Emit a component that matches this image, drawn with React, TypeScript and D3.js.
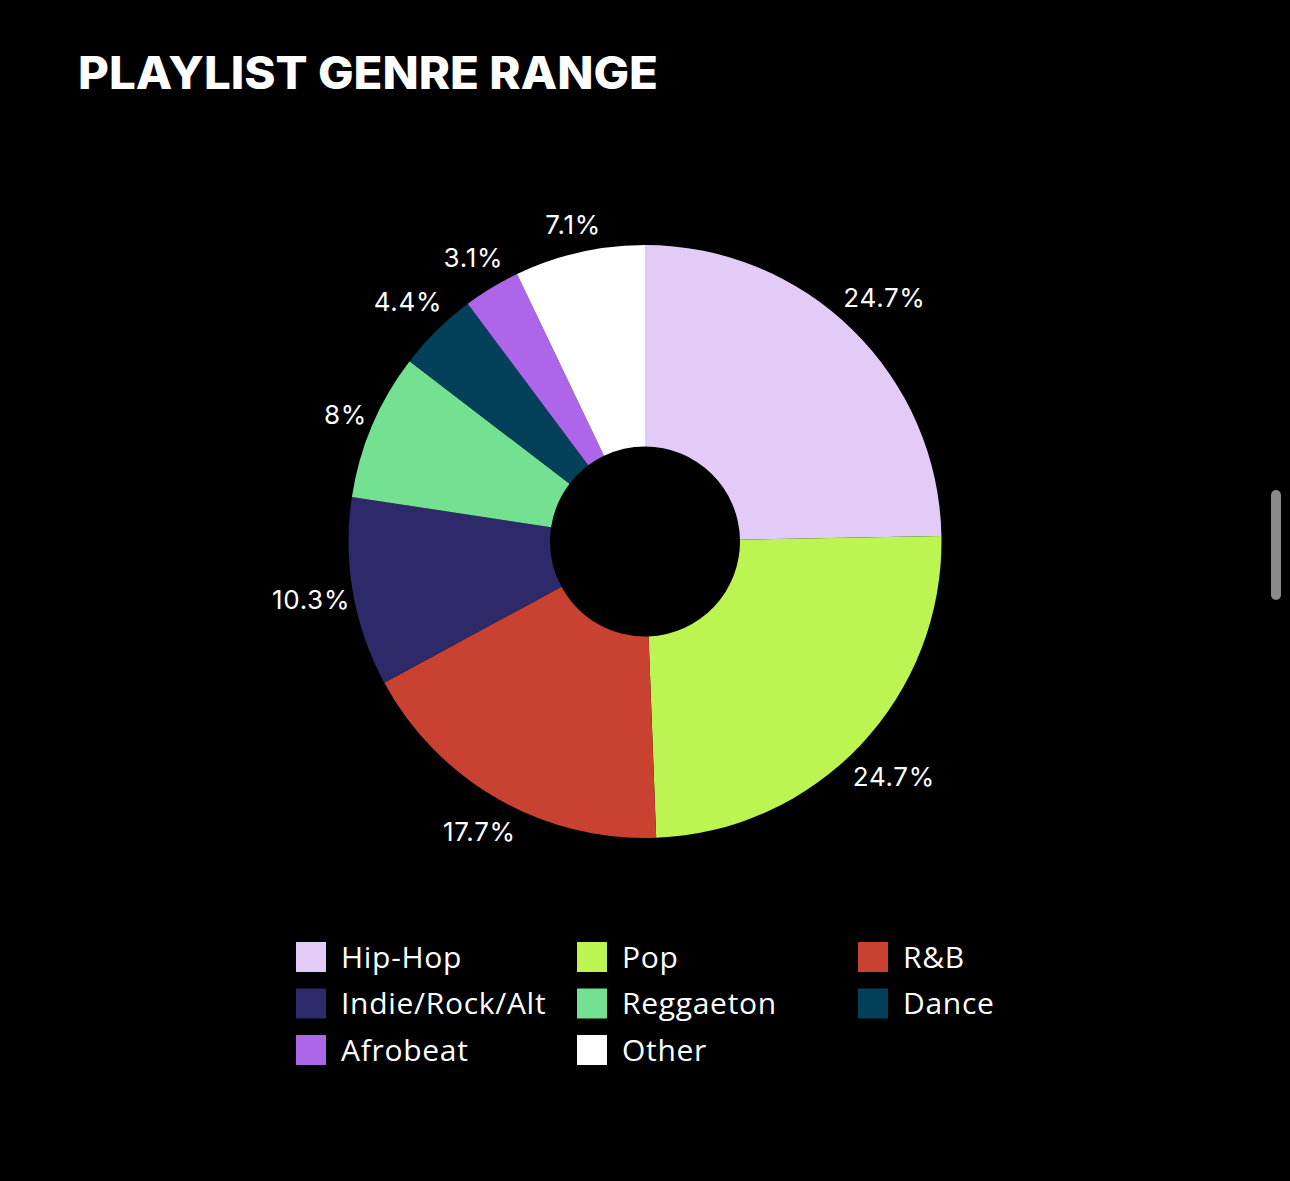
import { useEffect, useRef } from 'react';
import { select, pie, arc, scaleOrdinal, scaleBand } from 'd3';

const genres = ['Hip-Hop', 'Pop', 'R&B', 'Indie/Rock/Alt', 'Reggaeton', 'Dance', 'Afrobeat', 'Other'];
const shares = [24.7, 24.7, 17.7, 10.3, 8, 4.4, 3.1, 7.1];
const palette = ['#e2cbf7', '#bcf552', '#c94131', '#2e2a6a', '#73e092', '#03405a', '#ad66e9', '#ffffff'];

const legendColumns = 3;

export default function App() {
  const svgRef = useRef<SVGSVGElement>(null);

  useEffect(() => {
    if (!svgRef.current) return;
    const svg = select(svgRef.current);
    svg.selectAll('*').remove();

    const width = 1290;
    const height = 1181;
    const cx = 645;
    const cy = 541.5;
    const outerR = 296.5;
    const innerR = 95;
    // labels sit just outside the ring: nearest corner of label box ~ this far from centre
    const labelGap = 297;
    const labelHalfH = 23;

    svg.attr('width', width).attr('height', height);

    svg.append('rect').attr('width', width).attr('height', height).attr('fill', '#000');

    // Title
    svg.append('text')
      .attr('x', 78)
      .attr('y', 89)
      .attr('fill', '#fff')
      .attr('font-family', 'Inter, sans-serif')
      .attr('font-weight', 800)
      .attr('font-size', '45px')
      .attr('textLength', 580)
      .attr('lengthAdjust', 'spacingAndGlyphs')
      .text('PLAYLIST GENRE RANGE');

    const color = scaleOrdinal<string, string>().domain(genres).range(palette);

    const data = genres.map((g, i) => ({ genre: g, value: shares[i] }));
    const arcs = pie<{ genre: string; value: number }>()
      .value((d) => d.value)
      .sort(null)(data);

    const arcGen = arc<any>().innerRadius(innerR).outerRadius(outerR);

    const g = svg.append('g').attr('transform', `translate(${cx},${cy})`);

    g.selectAll('path.slice')
      .data(arcs)
      .join('path')
      .attr('class', 'slice')
      .attr('d', arcGen)
      .attr('fill', (d) => color(d.data.genre));

    const labels = g.selectAll<SVGTextElement, any>('text.pct')
      .data(arcs)
      .join('text')
      .attr('class', 'pct')
      .attr('text-anchor', 'middle')
      .attr('dominant-baseline', 'central')
      .attr('fill', '#fff')
      .attr('font-family', 'Inter, sans-serif')
      .attr('font-size', '26px')
      .attr('letter-spacing', '0.7px')
      .text((d) => `${d.data.value}%`);

    // push each label out along its bisector until its box clears the ring
    labels.each(function (d) {
      const a = (d.startAngle + d.endAngle) / 2;
      const ux = Math.sin(a);
      const uy = -Math.cos(a);
      const hw = this.getBBox().width / 2;
      const ax = Math.abs(ux);
      const ay = Math.abs(uy);
      const k = ax * hw + ay * labelHalfH;
      const c = hw * hw + labelHalfH * labelHalfH - labelGap * labelGap;
      let r = k + Math.sqrt(k * k - c);
      if (r * ax < hw) r = (labelGap + labelHalfH) / ay;
      else if (r * ay < labelHalfH) r = (labelGap + hw) / ax;
      select(this).attr('transform', `translate(${r * ux},${r * uy})`);
    });

    // Legend
    const col = scaleBand<number>().domain([0, 1, 2]).range([296, 1139]);
    const rowY = (r: number) => 942 + r * 46.5;

    const legend = svg.append('g');
    const items = legend.selectAll('g.item')
      .data(genres)
      .join('g')
      .attr('class', 'item')
      .attr('transform', (_, i) => `translate(${col(i % legendColumns)},${rowY(Math.floor(i / legendColumns))})`);

    items.append('rect')
      .attr('width', 30)
      .attr('height', 30)
      .attr('fill', (d) => color(d));

    items.append('text')
      .attr('x', 45)
      .attr('y', 14)
      .attr('dominant-baseline', 'central')
      .attr('fill', '#fff')
      .attr('font-family', '"Open Sans", sans-serif')
      .attr('font-size', '30px')
      .attr('letter-spacing', '0.7px')
      .text((d) => d);

    // scrollbar indicator
    svg.append('rect')
      .attr('x', 1271)
      .attr('y', 490)
      .attr('width', 10)
      .attr('height', 110)
      .attr('rx', 5)
      .attr('fill', '#8a8a8a');
  }, []);

  return (
    <div style={{ position: 'fixed', top: 0, left: 0, background: '#000' }}>
      <svg ref={svgRef} style={{ display: 'block' }} />
    </div>
  );
}
